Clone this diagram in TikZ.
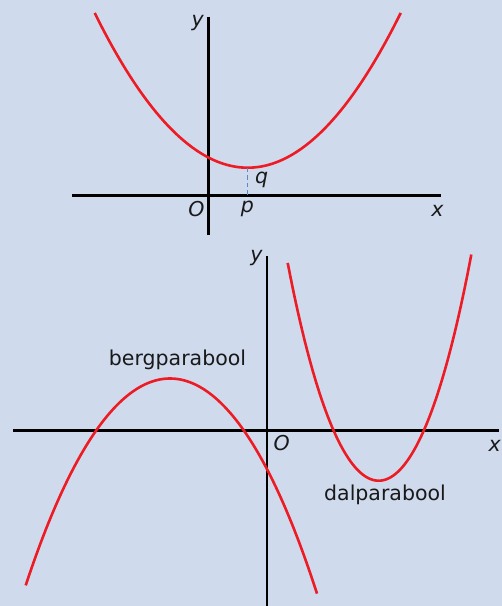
\documentclass[tikz,border=0pt]{standalone}
\usepackage{fontspec}
\setmainfont{DejaVu Sans}
\definecolor{bgc}{RGB}{207,218,237}
\definecolor{curvec}{RGB}{237,28,36}
\definecolor{dashc}{RGB}{95,135,200}
\tikzset{
  axisline/.style={line width=2.6pt,black},
  curveline/.style={line width=2.6pt,curvec,smooth,samples=120},
  lbl/.style={inner sep=0pt,anchor=base,text=black!90,font=\fontsize{20.5}{24}\selectfont},
  ilbl/.style={lbl,font=\fontsize{20.5}{24}\selectfont\itshape},
}
\begin{document}
\begin{tikzpicture}[x=1pt,y=-1pt]
\fill[bgc] (0,0) rectangle (502,606);
\useasboundingbox (0,0) rectangle (502,606);
% top graph
\coordinate (tx1) at (72.3,195.3);
\coordinate (tx2) at (441,195.3);
\coordinate (ty1) at (208.7,16.7);
\coordinate (ty2) at (208.7,235);
\draw[axisline] (tx1) -- (tx2);
\draw[axisline] (ty1) -- (ty2);
\draw[curveline,domain=94.7:400.7] plot (\x,{167.7-66.1*((\x-247.7)/100)^2});
\coordinate (top) at (247.7,167.7);
\coordinate (pp) at (247.7,195.3);
\draw[dashc,line width=1.5pt,dash pattern=on 4.5pt off 3pt] (top) -- (pp);
\node[ilbl] (ly1) at (197.7,26.4) {y};
\node[ilbl] (lx1) at (437.5,216.7) {x};
\node[ilbl] (lo1) at (196.5,216) {O};
\node[ilbl] (lp) at (247.5,212.4) {p};
\node[ilbl] (lq) at (261.7,183) {q};
% bottom graph
\coordinate (bx1) at (13.3,430.3);
\coordinate (bx2) at (499.3,430.3);
\coordinate (by1) at (267,256);
\coordinate (by2) at (267,606);
\draw[axisline] (bx1) -- (bx2);
\draw[axisline] (by1) -- (by2);
\draw[curveline,domain=25.7:317] plot (\x,{378.5+93.93*((\x-170)/100)^2+2.606*((\x-170)/100)^4});
\draw[curveline,domain=287.7:471.3] plot (\x,{480.7-241.3*((\x-378.7)/100)^2-26.2*((\x-378.7)/100)^4});
\node[ilbl] (ly2) at (256.5,261.2) {y};
\node[ilbl] (lo2) at (281.7,450) {O};
\node[ilbl] (lx2) at (494.7,451.7) {x};
\node[lbl] (berg) at (177.5,365) {bergparabool};
\node[lbl] (dal) at (385,500) {dalparabool};
\end{tikzpicture}
\end{document}
